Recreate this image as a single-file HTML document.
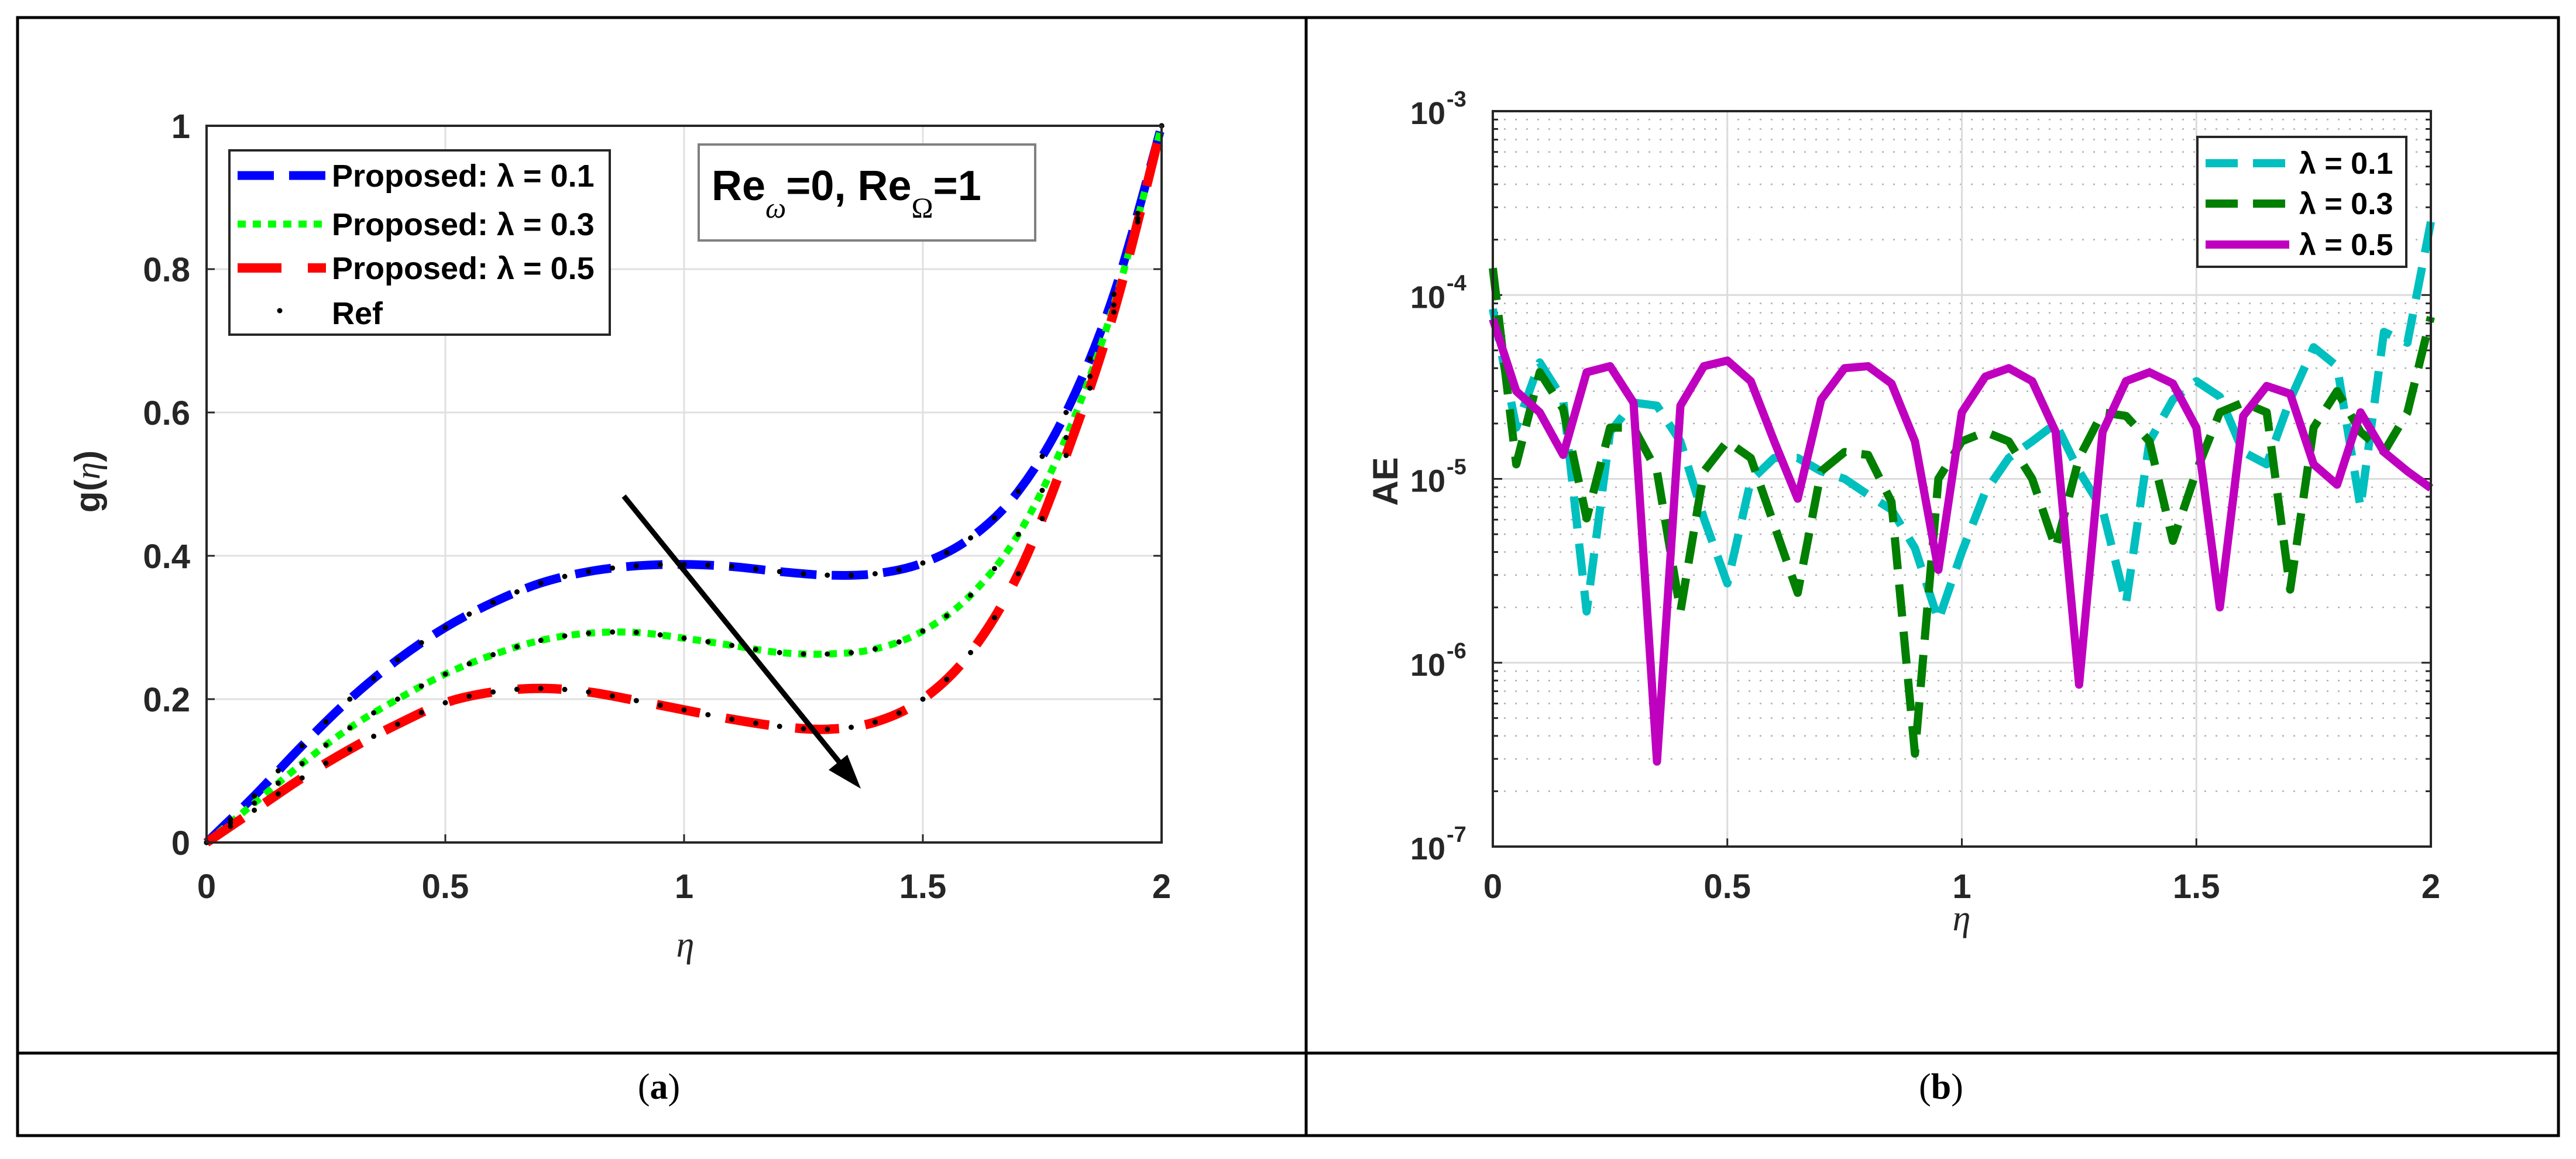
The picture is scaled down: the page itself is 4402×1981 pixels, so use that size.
<!DOCTYPE html>
<html><head><meta charset="utf-8"><style>
html,body{margin:0;padding:0;background:#fff;}
svg{display:block;font-family:"Liberation Sans",sans-serif;}
</style></head><body>
<svg id="fig" width="4402" height="1981" viewBox="0 0 4402 1981" xmlns="http://www.w3.org/2000/svg">
<rect x="0" y="0" width="4402" height="1981" fill="#fff"/>
<g id="table" stroke="#000" stroke-width="5" fill="none">
<rect x="30" y="30" width="4342" height="1911"/>
<line x1="2232" y1="30" x2="2232" y2="1941"/>
<line x1="30" y1="1800" x2="4372" y2="1800"/>
</g>
<text x="1126" y="1878" font-family="Liberation Serif,serif" font-size="62" text-anchor="middle">(<tspan font-weight="bold">a</tspan>)</text>
<text x="3317" y="1878" font-family="Liberation Serif,serif" font-size="62" text-anchor="middle">(<tspan font-weight="bold">b</tspan>)</text>
<g id="chartA"></g>
<g id="chartB"></g>
</svg>
<script>
// ---------- Chart A data ----------
const etaA = [0,0.1,0.2,0.3,0.4,0.5,0.6,0.7,0.8,0.9,1.0,1.1,1.2,1.3,1.4,1.5,1.6,1.7,1.8,1.9,2.0];
const gL01 = [0,0.065,0.135,0.20,0.255,0.30,0.335,0.362,0.378,0.386,0.388,0.385,0.378,0.373,0.375,0.39,0.425,0.49,0.60,0.765,1];
const gL03 = [0,0.055,0.11,0.16,0.20,0.235,0.262,0.282,0.292,0.293,0.285,0.275,0.265,0.263,0.27,0.295,0.345,0.43,0.565,0.75,1];
const gL05 = [0,0.045,0.09,0.13,0.165,0.195,0.21,0.215,0.21,0.198,0.185,0.172,0.162,0.158,0.168,0.20,0.265,0.375,0.54,0.74,1];
const xTicksA = [0,0.5,1,1.5,2];
const xTickLabelsA = ["0","0.5","1","1.5","2"];
const yTicksA = [0,0.2,0.4,0.6,0.8,1];
const yTickLabelsA = ["0","0.2","0.4","0.6","0.8","1"];
// ---------- Chart B data ----------
const etaB = [0,0.05,0.1,0.15,0.2,0.25,0.3,0.35,0.4,0.45,0.5,0.55,0.6,0.65,0.7,0.75,0.8,0.85,0.9,0.95,1.0,1.05,1.1,1.15,1.2,1.25,1.3,1.35,1.4,1.45,1.5,1.55,1.6,1.65,1.7,1.75,1.8,1.85,1.9,1.95,2.0];
const aeL01 = [8.4e-5,1.9e-5,4.3e-5,2.7e-5,1.9e-6,1.8e-5,2.6e-5,2.5e-5,1.6e-5,6.1e-6,2.7e-6,9.8e-6,1.3e-5,1.3e-5,1.1e-5,1e-5,8.2e-6,6.8e-6,4.2e-6,1.7e-6,4e-6,8.5e-6,1.3e-5,1.6e-5,2e-5,1.1e-5,6.8e-6,2.1e-6,1.6e-5,2.7e-5,3.4e-5,2.8e-5,1.4e-5,1.2e-5,2.7e-5,5.2e-5,4.1e-5,7e-6,6.3e-5,5.5e-5,2.5e-4];
const aeL03 = [1.4e-4,1.2e-5,3.8e-5,2.4e-5,6.1e-6,1.9e-5,1.9e-5,1.1e-5,1.9e-6,1.1e-5,1.6e-5,1.3e-5,5.6e-6,2.4e-6,1.1e-5,1.4e-5,1.35e-5,7.5e-6,3.2e-7,1e-5,1.6e-5,1.8e-5,1.6e-5,1e-5,4.2e-6,1.3e-5,2.3e-5,2.2e-5,1.6e-5,4.6e-6,1.1e-5,2.3e-5,2.6e-5,2.3e-5,2.5e-6,1.9e-5,3e-5,1.8e-5,1.4e-5,2.3e-5,7.6e-5];
const aeL05 = [7.4e-5,3e-5,2.3e-5,1.35e-5,3.8e-5,4.1e-5,2.6e-5,2.9e-7,2.5e-5,4.1e-5,4.4e-5,3.4e-5,1.6e-5,7.8e-6,2.7e-5,4e-5,4.1e-5,3.3e-5,1.6e-5,3.2e-6,2.3e-5,3.6e-5,4e-5,3.4e-5,1.8e-5,7.6e-7,1.8e-5,3.4e-5,3.8e-5,3.3e-5,1.9e-5,2e-6,2.2e-5,3.2e-5,2.9e-5,1.2e-5,9.3e-6,2.3e-5,1.4e-5,1.1e-5,8.9e-6];
const xTicksB = [0,0.5,1,1.5,2];
const xTickLabelsB = ["0","0.5","1","1.5","2"];
const yDecadesB = [-7,-6,-5,-4,-3];

const NS = "http://www.w3.org/2000/svg";
function mk(parent, tag, attrs, text){
  const e = document.createElementNS(NS, tag);
  for (const k in attrs) e.setAttribute(k, attrs[k]);
  if (text !== undefined) e.textContent = text;
  parent.appendChild(e);
  return e;
}
function smoothPath(pts){
  let d = "M" + pts[0][0] + "," + pts[0][1];
  for (let i=0;i<pts.length-1;i++){
    const p0 = pts[Math.max(0,i-1)], p1 = pts[i], p2 = pts[i+1], p3 = pts[Math.min(pts.length-1,i+2)];
    const c1x = p1[0]+(p2[0]-p0[0])/6, c1y = p1[1]+(p2[1]-p0[1])/6;
    const c2x = p2[0]-(p3[0]-p1[0])/6, c2y = p2[1]-(p3[1]-p1[1])/6;
    d += " C"+c1x+","+c1y+" "+c2x+","+c2y+" "+p2[0]+","+p2[1];
  }
  return d;
}

// ================= Chart A =================
(function(){
  const g = document.getElementById("chartA");
  const L=353, R=1985, T=215, B=1440;
  const xs = v => L + (v-0)/(2-0)*(R-L);
  const ys = v => B - (v-0)/(1-0)*(B-T);
  mk(g,"rect",{x:L,y:T,width:R-L,height:B-T,fill:"#fff"});
  xTicksA.forEach((t,i)=>{
    const gl = mk(g,"line",{x1:xs(t),y1:T,x2:xs(t),y2:B,stroke:"#e0e0e0","stroke-width":3});
    
    
    const tl = mk(g,"text",{x:xs(t),y:1535,"font-size":58,"font-weight":"bold","text-anchor":"middle",fill:"#262626"},xTickLabelsA[i]);
    
    
    mk(g,"line",{x1:xs(t),y1:B,x2:xs(t),y2:B-14,stroke:"#262626","stroke-width":3});
  });
  yTicksA.forEach((t,i)=>{
    const gl = mk(g,"line",{x1:L,y1:ys(t),x2:R,y2:ys(t),stroke:"#e0e0e0","stroke-width":3});
    
    
    const tl = mk(g,"text",{x:325,y:ys(t)+21,"font-size":58,"font-weight":"bold","text-anchor":"end",fill:"#262626"},yTickLabelsA[i]);
    
    
    mk(g,"line",{x1:L,y1:ys(t),x2:L+14,y2:ys(t),stroke:"#262626","stroke-width":3});
    mk(g,"line",{x1:R,y1:ys(t),x2:R-14,y2:ys(t),stroke:"#262626","stroke-width":3});
  });
  const series = [
    {v:gL01, c:"#0000ff", w:15, dash:"62 26", name:"series-lambda-0-1"},
    {v:gL03, c:"#00ff00", w:12, dash:"14 12", name:"series-lambda-0-3"},
    {v:gL05, c:"#ff0000", w:16, dash:"75 45", name:"series-lambda-0-5"}
  ];
  series.forEach(s=>{
    const pts = etaA.map((e,i)=>[xs(e),ys(s.v[i])]);
    const p = mk(g,"path",{d:smoothPath(pts),fill:"none",stroke:s.c,"stroke-width":s.w,"stroke-dasharray":s.dash});
    
    
  });
  series.forEach(s=>{
    const pts = etaA.map((e,i)=>[xs(e),ys(s.v[i])]);
    const tmp = mk(g,"path",{d:smoothPath(pts),fill:"none",stroke:"none"});
    const len = tmp.getTotalLength();
    for (let k=0;k<=40;k++){
      const tx = xs(k*0.05);
      let lo=0, hi=len;
      for (let it=0;it<30;it++){ const mid=(lo+hi)/2; if (tmp.getPointAtLength(mid).x<tx) lo=mid; else hi=mid; }
      const pt = tmp.getPointAtLength(lo);
      const d = mk(g,"circle",{cx:pt.x,cy:pt.y,r:4.5,fill:"#000"});
      
      
    }
    tmp.remove();
  });
  mk(g,"rect",{x:L,y:T,width:R-L,height:B-T,fill:"none",stroke:"#262626","stroke-width":4,});
  const ar = mk(g,"g",{});
  mk(ar,"line",{x1:1066,y1:848,x2:1450,y2:1322,stroke:"#000","stroke-width":9});
  mk(ar,"polygon",{points:"1471,1348 1416,1316 1448,1290",fill:"#000"});
  const an = mk(g,"g",{});
  mk(an,"rect",{x:1194,y:247,width:575,height:164,fill:"#fff",stroke:"#808080","stroke-width":4});
  const at = mk(an,"text",{x:1216,y:342,"font-size":72,"font-weight":"bold",fill:"#000"});
  at.innerHTML = 'Re<tspan dy="30" font-size="50" font-family="Liberation Serif,serif" font-style="italic" font-weight="normal">ω</tspan><tspan dy="-30">=0, Re</tspan><tspan dy="30" font-size="50" font-family="Liberation Serif,serif" font-weight="normal">Ω</tspan><tspan dy="-30">=1</tspan>';
  const lg = mk(g,"g",{});
  mk(lg,"rect",{x:392,y:257,width:650,height:315,fill:"#fff",stroke:"#262626","stroke-width":4});
  const entries = [
    {c:"#0000ff",w:15,dash:"62 26",t:"Proposed:  λ = 0.1",y:300},
    {c:"#00ff00",w:12,dash:"14 12",t:"Proposed:  λ = 0.3",y:383},
    {c:"#ff0000",w:16,dash:"75 45",t:"Proposed:  λ = 0.5",y:458},
    {c:null,t:"Ref",y:535}
  ];
  entries.forEach(e=>{
    const eg = mk(lg,"g",{});
    
    
    if (e.c) mk(eg,"line",{x1:406,y1:e.y,x2:557,y2:e.y,stroke:e.c,"stroke-width":e.w,"stroke-dasharray":e.dash});
    else mk(eg,"circle",{cx:478,cy:e.y-4,r:4.5,fill:"#000"});
    mk(eg,"text",{x:567,y:e.y+19,"font-size":54,"font-weight":"bold",fill:"#000","xml:space":"preserve"},e.t);
  });
  const yl = mk(g,"text",{x:0,y:0,"font-size":60,"font-weight":"bold",fill:"#262626","text-anchor":"middle",transform:"translate(170,823) rotate(-90)"});
  yl.innerHTML = 'g(<tspan font-family="Liberation Serif,serif" font-style="italic" font-weight="normal">η</tspan>)';
  
  
  const xl = mk(g,"text",{x:1171,y:1635,"font-size":62,"font-family":"Liberation Serif,serif","font-style":"italic",fill:"#262626","text-anchor":"middle"},"η");
  
  
})();

// ================= Chart B =================
(function(){
  const g = document.getElementById("chartB");
  const L=2551, R=4154, T=190, B=1447;
  const xs = v => L + v/2*(R-L);
  const ys = v => B - (Math.log10(v) - (-7))/4*(B-T);
  mk(g,"rect",{x:L,y:T,width:R-L,height:B-T,fill:"#fff"});
  for (let d=-7; d<-3; d++){
    for (let m=2;m<=9;m++){
      const y = ys(m*Math.pow(10,d));
      const gl = mk(g,"line",{x1:L,y1:y,x2:R,y2:y,stroke:"#b0b0b0","stroke-width":2.5,"stroke-dasharray":"3 16"});
      
      
      mk(g,"line",{x1:L,y1:y,x2:L+9,y2:y,stroke:"#262626","stroke-width":3});
      mk(g,"line",{x1:R,y1:y,x2:R-9,y2:y,stroke:"#262626","stroke-width":3});
    }
  }
  yDecadesB.forEach(d=>{
    const y = ys(Math.pow(10,d));
    const gl = mk(g,"line",{x1:L,y1:y,x2:R,y2:y,stroke:"#dcdcdc","stroke-width":3});
    
    
    mk(g,"line",{x1:L,y1:y,x2:L+16,y2:y,stroke:"#262626","stroke-width":3});
    mk(g,"line",{x1:R,y1:y,x2:R-16,y2:y,stroke:"#262626","stroke-width":3});
    const tl = mk(g,"text",{x:2470,y:y+22,"font-size":54,"font-weight":"bold","text-anchor":"end",fill:"#262626"},"10");
    
    
    mk(g,"text",{x:2472,y:y-8,"font-size":38,"font-weight":"bold","text-anchor":"start",fill:"#262626"},String(d));
  });
  xTicksB.forEach((t,i)=>{
    const gl = mk(g,"line",{x1:xs(t),y1:T,x2:xs(t),y2:B,stroke:"#dcdcdc","stroke-width":3});
    
    
    mk(g,"line",{x1:xs(t),y1:B,x2:xs(t),y2:B-14,stroke:"#262626","stroke-width":3});
    const tl = mk(g,"text",{x:xs(t),y:1535,"font-size":58,"font-weight":"bold","text-anchor":"middle",fill:"#262626"},xTickLabelsB[i]);
    
    
  });
  const series = [
    {v:aeL01,c:"#00bfbf",dash:"55 26",name:"ae-lambda-0-1"},
    {v:aeL03,c:"#007f00",dash:"55 26",name:"ae-lambda-0-3"},
    {v:aeL05,c:"#bf00bf",dash:"none",name:"ae-lambda-0-5"}
  ];
  series.forEach(s=>{
    const d = etaB.map((e,i)=>(i?"L":"M")+xs(e)+","+ys(s.v[i])).join(" ");
    const p = mk(g,"path",{d:d,fill:"none",stroke:s.c,"stroke-width":14,"stroke-dasharray":s.dash,"stroke-linejoin":"round"});
    
    
  });
  mk(g,"rect",{x:L,y:T,width:R-L,height:B-T,fill:"none",stroke:"#262626","stroke-width":4,});
  const lg = mk(g,"g",{});
  mk(lg,"rect",{x:3755,y:234,width:357,height:222,fill:"#fff",stroke:"#262626","stroke-width":4});
  [{c:"#00bfbf",dash:"55 26",t:"λ = 0.1",y:279},{c:"#007f00",dash:"55 26",t:"λ = 0.3",y:348},{c:"#bf00bf",dash:"none",t:"λ = 0.5",y:418}].forEach(e=>{
    const eg = mk(lg,"g",{});
    
    
    mk(eg,"line",{x1:3769,y1:e.y,x2:3912,y2:e.y,stroke:e.c,"stroke-width":14,"stroke-dasharray":e.dash});
    mk(eg,"text",{x:3929,y:e.y+18,"font-size":52,"font-weight":"bold",fill:"#000"},e.t);
  });
  const yl = mk(g,"text",{x:0,y:0,"font-size":60,"font-weight":"bold",fill:"#262626","text-anchor":"middle",transform:"translate(2388,823) rotate(-90)"},"AE");
  
  
  const xl = mk(g,"text",{x:3352,y:1590,"font-size":62,"font-family":"Liberation Serif,serif","font-style":"italic",fill:"#262626","text-anchor":"middle"},"η");
  
  
})();
</script>
</body></html>
